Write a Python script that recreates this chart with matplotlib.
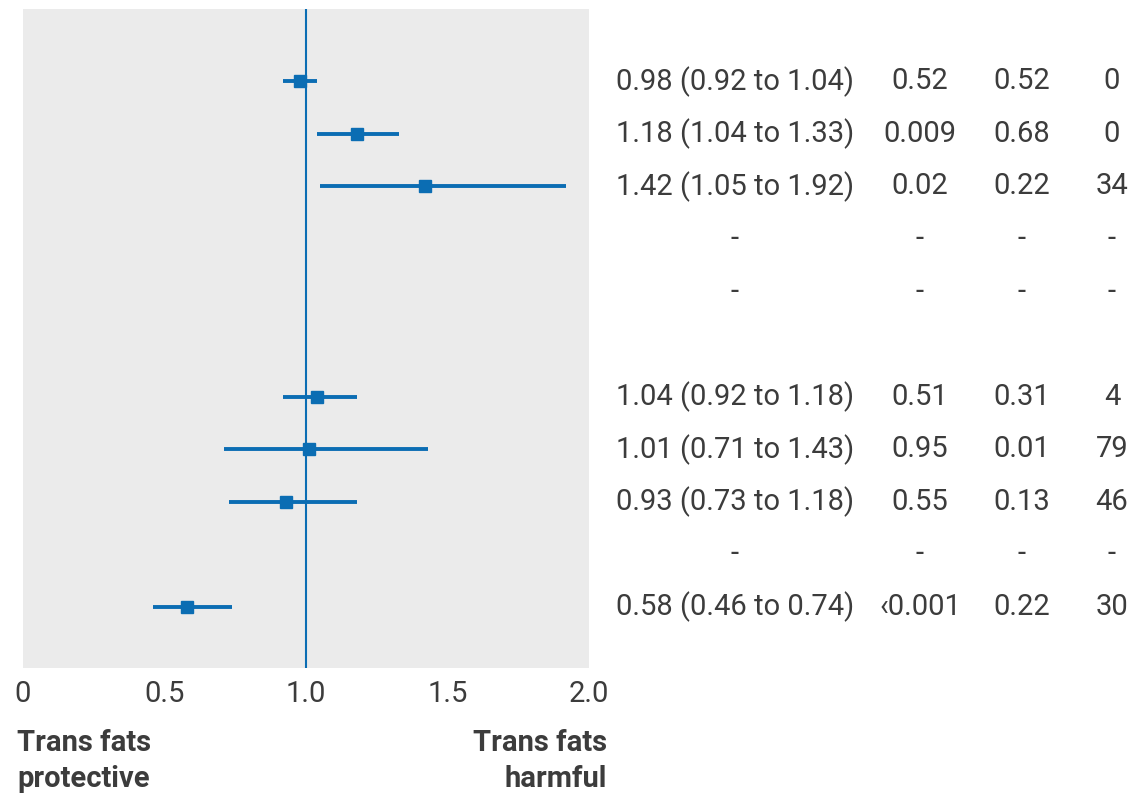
import matplotlib
matplotlib.use("Agg")
import matplotlib.pyplot as plt
import matplotlib.transforms as mtransforms

# rows top to bottom; None marks a row without an estimate
hr = [0.98, 1.18, 1.42, None, None, None, 1.04, 1.01, 0.93, None, 0.58]
ci_lo = [0.92, 1.04, 1.05, None, None, None, 0.92, 0.71, 0.73, None, 0.46]
ci_hi = [1.04, 1.33, 1.92, None, None, None, 1.18, 1.43, 1.18, None, 0.74]
col_hr = ["0.98 (0.92 to 1.04)", "1.18 (1.04 to 1.33)", "1.42 (1.05 to 1.92)", "-", "-", "",
          "1.04 (0.92 to 1.18)", "1.01 (0.71 to 1.43)", "0.93 (0.73 to 1.18)", "-",
          "0.58 (0.46 to 0.74)"]
col_p = ["0.52", "0.009", "0.02", "-", "-", "", "0.51", "0.95", "0.55", "-", "\u20390.001"]
col_phet = ["0.52", "0.68", "0.22", "-", "-", "", "0.31", "0.01", "0.13", "-", "0.22"]
col_i2 = ["0", "0", "34", "-", "-", "", "4", "79", "46", "-", "30"]
x_ticks = [0, 0.5, 1.0, 1.5, 2.0]
x_ticklabels = ["0", "0.5", "1.0", "1.5", "2.0"]
inner_ticks = [0.5, 1.5]

BLUE = "#0b6db3"
TEXT = "#3c3c3c"
FONT = ["Roboto", "DejaVu Sans"]
plt.rcParams["font.family"] = FONT

W, H = 1140, 794
fig = plt.figure(figsize=(W / 100, H / 100), dpi=100)
ax = fig.add_axes([22.5 / W, 1 - 668 / H, (589 - 22.5) / W, (668 - 8.7) / H])
ax.set_facecolor("#ebebeb")
for s in ax.spines.values():
    s.set_visible(False)

n = len(hr)
ax.set_xlim(0, 2.0)
ax.set_ylim(n - 1 + 1.16, -1.38)
ax.axvline(1.0, color=BLUE, lw=1.5, zorder=2)

for i in range(n):
    if hr[i] is None:
        continue
    ax.plot([ci_lo[i], ci_hi[i]], [i, i], color=BLUE, lw=2.8, solid_capstyle="butt", zorder=3)
    ax.plot(hr[i], i, marker="s", ms=9, color=BLUE, zorder=4)

ax.set_yticks([])
ax.set_xticks(x_ticks)
ax.set_xticklabels(x_ticklabels)
ax.set_xticks(inner_ticks, minor=True)
ax.tick_params(axis="x", which="major", length=0, labelsize=21, labelcolor=TEXT, pad=9)
ax.tick_params(axis="x", which="minor", direction="in", length=10, width=2, color="white")

trans = mtransforms.blended_transform_factory(fig.transFigure, ax.transData)
for xpix, col in [(735, col_hr), (920, col_p), (1022, col_phet), (1112, col_i2)]:
    for i, t in enumerate(col):
        ax.text(xpix / W, i, t, transform=trans, ha="center", va="center",
                fontsize=21, color=TEXT, clip_on=False)

fig.text(17 / W, 1 - 761 / H, "Trans fats\nprotective", ha="left", va="center",
         fontsize=21, fontweight="bold", color=TEXT, linespacing=1.35)
fig.text(607 / W, 1 - 761 / H, "Trans fats\nharmful", ha="right", va="center",
         fontsize=21, fontweight="bold", color=TEXT, linespacing=1.35, multialignment="right")

fig.savefig("out.png", dpi=100)
